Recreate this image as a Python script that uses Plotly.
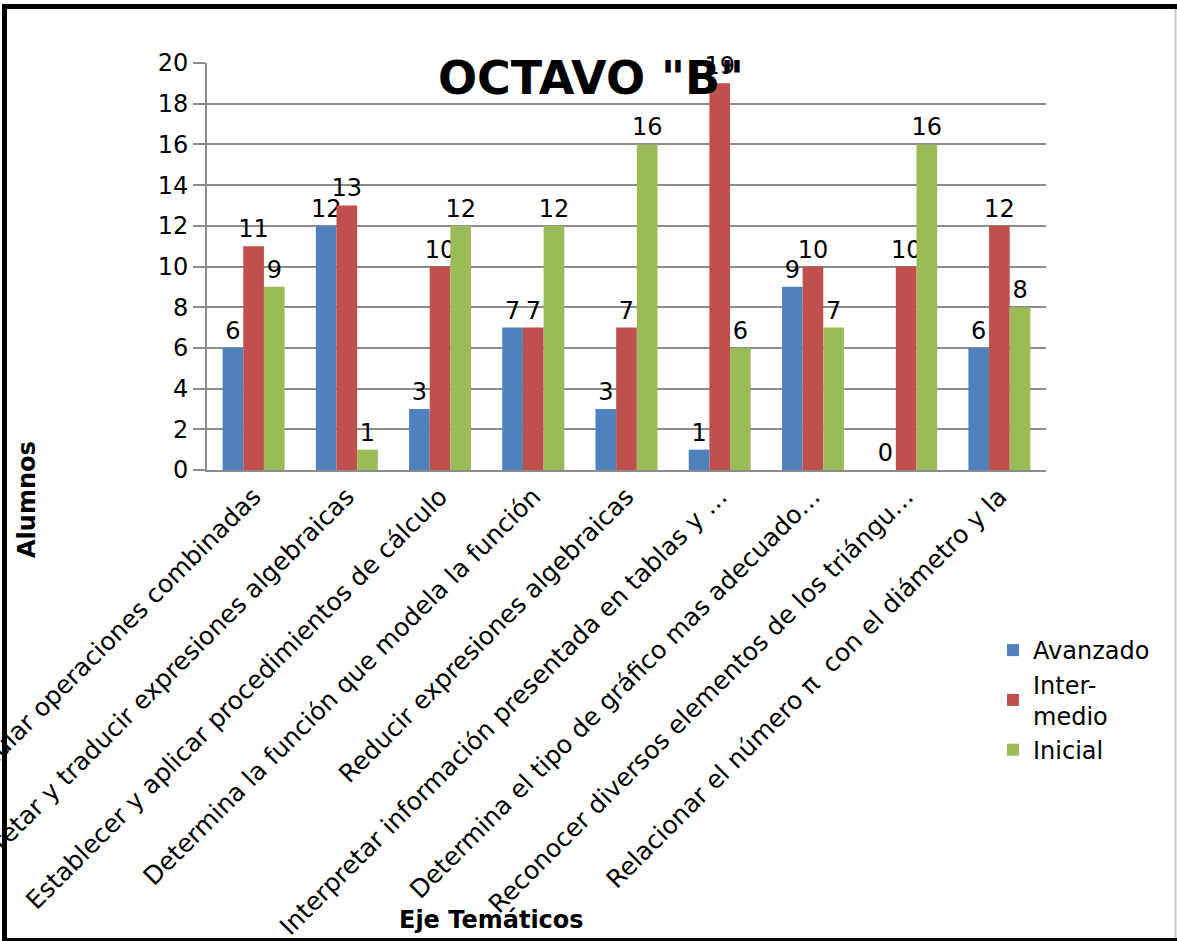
import plotly.graph_objects as go

# Ejes temáticos evaluados (etiquetas del eje X)
categorias = [
    "Calcular operaciones combinadas",
    "Interpretar y traducir expresiones algebraicas",
    "Establecer y aplicar procedimientos de cálculo",
    "Determina la función que modela la función",
    "Reducir expresiones algebraicas",
    "Interpretar información presentada en tablas y …",
    "Determina el tipo de gráfico mas adecuado…",
    "Reconocer diversos elementos de los triángu…",
    "Relacionar el número π  con el diámetro y la",
]

# Número de alumnos por nivel de logro
avanzado = [6, 12, 3, 7, 3, 1, 9, 0, 6]
intermedio = [11, 13, 10, 7, 7, 19, 10, 10, 12]
inicial = [9, 1, 12, 12, 16, 6, 7, 16, 8]

nombres = ["Avanzado", "Inter-<br>medio", "Inicial"]
colores = ["#4F81BD", "#C0504D", "#9BBB59"]

y_ticks = list(range(0, 21, 2))

FONT = "DejaVu Sans"
W, H = 1177, 941
L, R, T, B = 207, 131, 63, 471
PW, PH = W - L - R, H - T - B


def px_x(px):
    return (px - L) / PW


def px_y(py):
    return (H - B - py) / PH


fig = go.Figure()
for nombre, serie, color in zip(nombres, [avanzado, intermedio, inicial], colores):
    fig.add_trace(go.Bar(
        name=nombre,
        x=categorias,
        y=serie,
        marker=dict(color=color, line=dict(width=0)),
        text=serie,
        textposition="outside",
        constraintext="none",
        cliponaxis=False,
        textfont=dict(family=FONT, size=24, color="black"),
    ))

shapes = [
    # marco exterior
    dict(type="line", xref="paper", yref="paper",
         x0=px_x(4.5), x1=px_x(4.5), y0=px_y(5), y1=px_y(941),
         line=dict(color="black", width=5)),
    dict(type="line", xref="paper", yref="paper",
         x0=px_x(2), x1=px_x(1177), y0=px_y(6.5), y1=px_y(6.5),
         line=dict(color="black", width=5)),
    dict(type="line", xref="paper", yref="paper",
         x0=px_x(2), x1=px_x(1177), y0=px_y(939.5), y1=px_y(939.5),
         line=dict(color="black", width=3)),
    dict(type="line", xref="paper", yref="paper",
         x0=px_x(1175.5), x1=px_x(1175.5), y0=px_y(9), y1=px_y(938),
         line=dict(color="#c8c8c8", width=2)),
]

annotations = [
    dict(text="<b>Alumnos</b>", xref="paper", yref="paper",
         x=px_x(27), y=px_y(500), textangle=-90, showarrow=False,
         font=dict(family=FONT, size=24, color="black"),
         xanchor="center", yanchor="middle"),
    dict(text="<b>Eje Temáticos</b>", xref="paper", yref="paper",
         x=px_x(491), y=px_y(920), showarrow=False,
         font=dict(family=FONT, size=24, color="black"),
         xanchor="center", yanchor="middle"),
]

fig.update_layout(
    width=W, height=H,
    margin=dict(l=L, r=R, t=T, b=B, autoexpand=False),
    paper_bgcolor="white", plot_bgcolor="white",
    font=dict(family=FONT, size=24, color="black"),
    barmode="group", bargap=0.335, bargroupgap=0,
    title=dict(text='<b>OCTAVO "B"</b>', xref="paper", yref="container",
               x=px_x(591), y=1 - 78 / H, xanchor="center", yanchor="middle",
               font=dict(family=FONT, size=46, color="black")),
    showlegend=True,
    legend=dict(x=px_x(993), y=px_y(628), xanchor="left", yanchor="top",
                font=dict(family=FONT, size=24, color="black"),
                bgcolor="rgba(0,0,0,0)", tracegroupgap=4, itemwidth=30),
    shapes=shapes,
    annotations=annotations,
)

fig.update_xaxes(
    tickangle=-45, tickfont=dict(family=FONT, size=25, color="black"),
    showline=True, linecolor="#8c8c8c", linewidth=2,
    showgrid=False, ticks="", automargin=False,
)
fig.update_yaxes(
    range=[0, 20], tickvals=y_ticks, ticktext=[str(v) for v in y_ticks],
    tickfont=dict(family=FONT, size=24, color="black"),
    showgrid=True, gridcolor="#8c8c8c", gridwidth=2,
    showline=True, linecolor="#8c8c8c", linewidth=2,
    ticks="outside", ticklen=12, tickcolor="#8c8c8c", tickwidth=2,
    zeroline=False, automargin=False,
)

fig.write_html("out.html")
